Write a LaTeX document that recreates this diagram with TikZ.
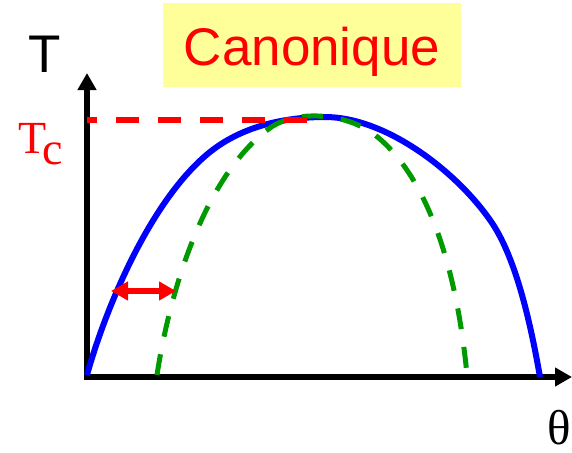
\documentclass[tikz,border=0pt]{standalone}
\usepackage{fontspec}
\setmainfont{Liberation Serif}
\newfontfamily\arialish{Liberation Sans}
\usetikzlibrary{arrows.meta}
\definecolor{boxyellow}{RGB}{255,255,153}
\definecolor{curvegreen}{RGB}{0,153,0}
\tikzset{
  axis/.style={line width=6pt,-{Triangle[width=18pt,length=17pt]}},
  bluecurve/.style={blue,line width=6pt},
  greencurve/.style={curvegreen,line width=5pt,dash pattern=on 21pt off 18pt},
  tcline/.style={red,line width=6pt,dash pattern=on 23pt off 19pt,dash phase=13pt},
  gap/.style={red,line width=6pt,{Triangle[width=18pt,length=17pt]}-{Triangle[width=18pt,length=17pt]}},
  lbl/.style={inner sep=0pt,anchor=base}
}
\begin{document}
\begin{tikzpicture}[x=1pt,y=-1pt]
\useasboundingbox (0,0) rectangle (572,452);
% title
\node[fill=boxyellow,minimum width=298pt,minimum height=84pt,anchor=north west,inner sep=0pt] (box) at (163,3) {};
\node[lbl,red,font=\arialish\fontsize{53}{60}\selectfont] (title) at (312,65) {Canonique};
% axes
\coordinate (origin) at (87,377);
\coordinate (ytip) at (87,73);
\coordinate (xtip) at (572,377);
\draw[axis] (87,380) -- (ytip);
\draw[axis] (84,377) -- (xtip);
\node[lbl,font=\arialish\fontsize{53}{60}\selectfont] (T) at (45,72) {T};
\node[lbl,red,font=\fontsize{46}{50}\selectfont] (Tc) at (41,153) {T\kern-4pt\raisebox{-11pt}{c}};
\node[lbl,font=\fontsize{49}{55}\selectfont] (theta) at (559,444) {θ};
% curves
\draw[bluecurve] (87,375) .. controls (105,310) and (150,200) .. (210,152)
  .. controls (245,124) and (290,117) .. (325,117)
  .. controls (385,117) and (455,170) .. (490,220)
  .. controls (515,255) and (530,320) .. (540,377);
\draw[greencurve] (157,375) .. controls (170,290) and (205,175) .. (270,128)
  .. controls (295,110) and (345,112) .. (375,135)
  .. controls (420,170) and (455,250) .. (467,375);
% Tc line
\coordinate (tcstart) at (87,120);
\coordinate (tcend) at (318,120);
\draw[tcline] (tcstart) -- (tcend);
% gap arrow
\coordinate (ga) at (111,291);
\coordinate (gb) at (176,291);
\draw[gap] (ga) -- (gb);
\end{tikzpicture}
\end{document}
